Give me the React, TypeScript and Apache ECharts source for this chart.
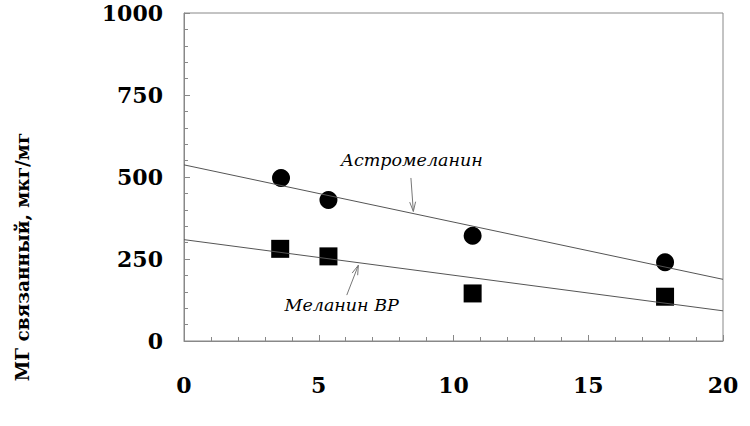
import React, { useEffect, useRef } from "react";
import * as echarts from "echarts";

const astroX = [3.6, 5.36, 10.71, 17.85];
const astroY = [497, 430, 321, 240];
const melX = [3.57, 5.36, 10.71, 17.85];
const melY = [281, 258, 145, 135];
const astroFit = [[0, 537], [20, 188]];
const melFit = [[0, 309], [20, 92]];
const labelTexts = ["Астромеланин", "Меланин ВР"];
const labelPos = [[8.45, 553], [5.85, 109]];
const arrows = [[8.42, 497, 8.51, 395], [6.04, 140, 6.47, 231]];
const yTitle = "МГ связанный, мкг/мг";

const SERIF = "DejaVu Serif";

export default function App() {
  const ref = useRef<HTMLDivElement>(null);
  useEffect(() => {
    const chart = echarts.init(ref.current!, null, { renderer: "svg" });
    chart.setOption({
      animation: false,
      textStyle: { fontFamily: SERIF },
      grid: { left: 184, right: 27, top: 13, bottom: 85, show: true, borderColor: "#888", borderWidth: 1 },
      xAxis: {
        type: "value", min: 0, max: 20, interval: 5,
        axisLine: { lineStyle: { color: "#888" } },
        axisTick: { inside: true, length: 6, lineStyle: { color: "#888" } },
        minorTick: { show: true, splitNumber: 5, length: 4, lineStyle: { color: "#888" } },
        splitLine: { show: false },
        axisLabel: { color: "#000", fontFamily: SERIF, fontWeight: "bold", fontSize: 22, margin: 33 },
      },
      yAxis: {
        type: "value", min: 0, max: 1000, interval: 250,
        axisLine: { show: true, lineStyle: { color: "#888" } },
        axisTick: { show: true, inside: true, length: 6, lineStyle: { color: "#888" } },
        minorTick: { show: true, splitNumber: 5, length: 4, lineStyle: { color: "#888" } },
        splitLine: { show: false },
        axisLabel: {
          color: "#000", fontFamily: SERIF, fontWeight: "bold", fontSize: 22, margin: 21, padding: [8, 0, 0, 0],
          formatter: (v: number) => String(v),
        },
      },
      graphic: [
        {
          type: "text", x: 22, y: 257, rotation: Math.PI / 2,
          style: { text: yTitle, fill: "#000", fontFamily: SERIF, fontWeight: "bold", fontSize: 18.5, align: "center", verticalAlign: "middle" },
        },
      ],
      series: [
        { type: "line", data: astroFit, symbol: "none", lineStyle: { color: "#555", width: 1 }, silent: true },
        { type: "line", data: melFit, symbol: "none", lineStyle: { color: "#555", width: 1 }, silent: true },
        { type: "scatter", data: astroX.map((x, i) => [x, astroY[i]]), symbol: "circle", symbolSize: 18, itemStyle: { color: "#000", opacity: 1 } },
        { type: "scatter", data: melX.map((x, i) => [x, melY[i]]), symbol: "rect", symbolSize: 18, itemStyle: { color: "#000", opacity: 1 } },
        {
          type: "custom",
          data: arrows,
          renderItem: (params: any, api: any) => {
            const p1 = api.coord([api.value(0), api.value(1)]);
            const p2 = api.coord([api.value(2), api.value(3)]);
            const ang = Math.atan2(p2[1] - p1[1], p2[0] - p1[0]);
            const L = 10, a = 0.3;
            const h1 = [p2[0] - L * Math.cos(ang - a), p2[1] - L * Math.sin(ang - a)];
            const h2 = [p2[0] - L * Math.cos(ang + a), p2[1] - L * Math.sin(ang + a)];
            const st = { stroke: "#777", lineWidth: 1, fill: "none" };
            return {
              type: "group",
              children: [
                { type: "line", shape: { x1: p1[0], y1: p1[1], x2: p2[0], y2: p2[1] }, style: st },
                { type: "polyline", shape: { points: [h1, p2, h2] }, style: st },
              ],
            };
          },
        },
        {
          type: "custom",
          data: labelPos,
          renderItem: (params: any, api: any) => {
            const p = api.coord([api.value(0), api.value(1)]);
            return {
              type: "text", x: p[0], y: p[1],
              style: {
                text: labelTexts[params.dataIndex], fill: "#000", fontFamily: SERIF, fontStyle: "italic",
                fontSize: 17.5, align: "center", verticalAlign: "middle",
              },
            };
          },
        },
      ],
    });
    return () => chart.dispose();
  }, []);
  return <div ref={ref} style={{ width: 750, height: 426, position: "absolute", left: 0, top: 0, background: "#fff" }} />;
}
